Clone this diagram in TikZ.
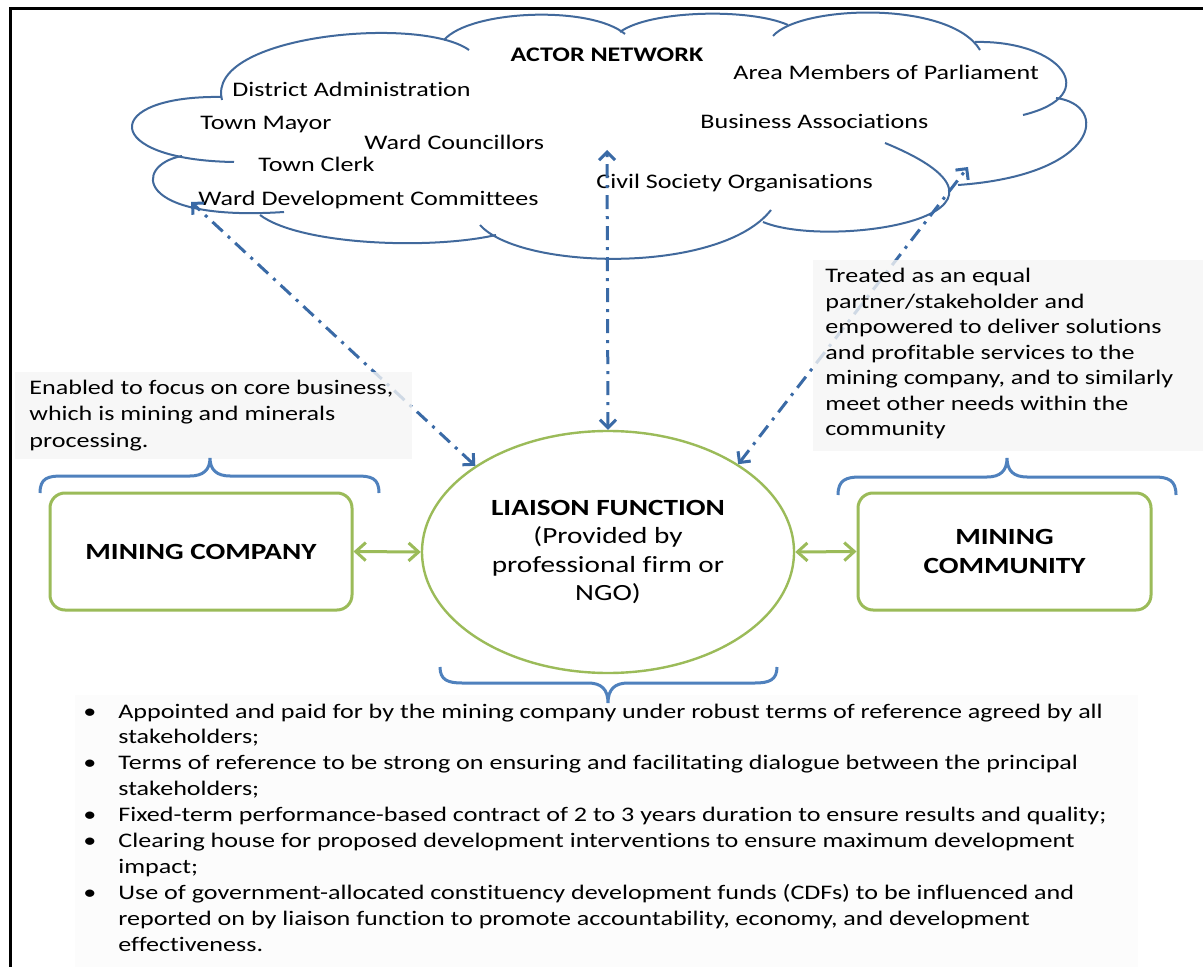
\documentclass[tikz,border=0pt]{standalone}
\usepackage{fontspec}
\setmainfont{Carlito}[FakeStretch=1.26, RawFeature={-liga;-clig;-calt;-dlig}]
\usetikzlibrary{arrows.meta,shapes.geometric}
\definecolor{cloudblue}{HTML}{41699C}
\definecolor{arrowblue}{HTML}{3A6AA6}
\definecolor{braceblue}{HTML}{4F81BD}
\definecolor{leafgreen}{HTML}{9BBB59}
\definecolor{boxgray}{HTML}{F5F5F5}
\definecolor{listgray}{HTML}{FCFCFC}
\newcommand\txtfont{\fontsize{10.35}{12.9}\selectfont}
\newcommand\bigtxtfont{\fontsize{11.6}{14.2}\selectfont}
\begin{document}
\begin{tikzpicture}[x=0.5pt,y=-0.5pt,
  cloudline/.style={draw=cloudblue, line width=1pt},
  bracepath/.style={draw=braceblue, line width=1.5pt},
  greenbox/.style={draw=leafgreen, line width=1.5pt, rounded corners=7.5pt, fill=white,
    minimum height=58.5pt, font=\bigtxtfont\bfseries, align=center, inner sep=0pt},
  liaisonshape/.style={ellipse, draw=leafgreen, line width=1.2pt, fill=white,
    minimum width=186pt, minimum height=121pt, inner sep=0pt, align=center, font=\bigtxtfont},
  linkarrow/.style={draw=leafgreen, line width=1.5pt,
    {Straight Barb[length=5pt,width=9pt]}-{Straight Barb[length=5pt,width=9pt]}},
  actorarrow/.style={draw=arrowblue, line width=1.5pt,
    dash pattern=on 7pt off 3.5pt on 1.5pt off 3.5pt,
    {Straight Barb[length=4pt,width=8pt]}-{Straight Barb[length=4pt,width=8pt]}},
  notebox/.style={fill=boxgray, fill opacity=0.8, draw=none},
  txt/.style={anchor=base west, inner sep=0pt, font=\txtfont}]
\useasboundingbox (0,0) rectangle (1203,967);
\fill[white] (0,0) rectangle (1203,967);
% frame
\draw[line width=1.5pt] (1203,9) -- (10,9) -- (10,967);
% bottom list box
\fill[listgray] (75,695) rectangle (1138,967);
% cloud
\draw[cloudline] (222,97) .. controls (100,95) and (100,160) .. (234,162);
\draw[cloudline] (182,156) .. controls (133,165) and (133,222) .. (284,212);
\draw[cloudline] (260,215) .. controls (300,245) and (430,250) .. (496,235);
\draw[cloudline] (480,225) .. controls (520,270) and (720,275) .. (771,210);
\draw[cloudline] (763,222) .. controls (830,250) and (1060,215) .. (885,143);
\draw[cloudline] (1056,98) .. controls (1110,105) and (1100,175) .. (958,185);
\draw[cloudline] (975,42) .. controls (1060,40) and (1105,95) .. (1023,115);
\draw[cloudline] (773,36) .. controls (800,5) and (950,0) .. (980,50);
\draw[cloudline] (620,32) .. controls (650,10) and (750,8) .. (788,25);
\draw[cloudline] (444,40) .. controls (470,10) and (590,5) .. (625,34);
\draw[cloudline] (222,100) .. controls (205,35) and (420,15) .. (469,50);
% cloud texts
\node[txt, anchor=base, font=\txtfont\bfseries] (actor) at (607,62) {ACTOR NETWORK};
\node[txt] (dist) at (232,97) {District Administration};
\node[txt] (mayor) at (200,130) {Town Mayor};
\node[txt] (wardc) at (364,150) {Ward Councillors};
\node[txt] (clerk) at (258,172) {Town Clerk};
\node[txt] (wdc) at (198,206) {Ward Development Committees};
\node[txt] (amp) at (733,80) {Area Members of Parliament};
\node[txt] (bus) at (700,129) {Business Associations};
\node[txt] (cso) at (596,189) {Civil Society Organisations};
% anchors on the cloud
\coordinate (cl) at (191,202);
\coordinate (cm) at (607,150);
\coordinate (cr) at (968,167);
% main nodes
\node[liaisonshape] (liaison) at (608,552)
  {\textbf{LIAISON FUNCTION}\\(Provided by\\professional firm or\\NGO)};
\node[greenbox, minimum width=151pt] (company) at (201,551.5) {MINING COMPANY};
\node[greenbox, minimum width=146.5pt] (community) at (1004.5,551.5) {MINING\\COMMUNITY};
% actor arrows
\draw[actorarrow] (liaison.147) -- (cl);
\draw[actorarrow] (liaison.north) -- (cm);
\draw[actorarrow] (liaison.34) -- (cr);
% link arrows
\draw[linkarrow] (company.east) -- (liaison.west);
\draw[linkarrow] (liaison.east) -- (community.west);
% note boxes
\path[notebox] (15,372) rectangle (412,459);
\path[notebox] (813,260) rectangle (1203,451);
\foreach \t [count=\i from 0] in {{Enabled to focus on core business,},
  {which is mining and minerals}, {processing.}}
  \node[txt] (left\i) at (29,{395+26*\i}) {\t};
\foreach \t [count=\i from 0] in {{Treated as an equal}, {partner/stakeholder and},
  {empowered to deliver solutions}, {and profitable services to the},
  {mining company, and to similarly}, {meet other needs within the}, {community}}
  \node[txt] (right\i) at (825,{283+25.5*\i}) {\t};
% braces
\draw[bracepath] (40,493) .. controls (40,478) and (48,476) .. (62,476) -- (190,476)
  .. controls (203,476) and (210,470) .. (210,458)
  .. controls (210,470) and (217,476) .. (230,476) -- (357,476)
  .. controls (371,476) and (379,478) .. (379,493);
\draw[bracepath] (838,495) .. controls (838,480) and (846,477) .. (860,477) -- (987,477)
  .. controls (1000,477) and (1007,471) .. (1007,458)
  .. controls (1007,471) and (1014,477) .. (1027,477) -- (1154,477)
  .. controls (1168,477) and (1176,480) .. (1176,495);
\draw[bracepath] (440,667) .. controls (440,680) and (448,683) .. (462,683) -- (588,683)
  .. controls (601,683) and (608,689) .. (608,703)
  .. controls (608,689) and (615,683) .. (628,683) -- (755,683)
  .. controls (769,683) and (777,680) .. (777,667);
% bottom list
\foreach \b/\t [count=\i from 0] in {
  1/{Appointed and paid for by the mining company under robust terms of reference agreed by all},
  0/{stakeholders;},
  1/{Terms of reference to be strong on ensuring and facilitating dialogue between the principal},
  0/{stakeholders;},
  1/{Fixed-term performance-based contract of 2 to 3 years duration to ensure results and quality;},
  1/{Clearing house for proposed development interventions to ensure maximum development},
  0/{impact;},
  1/{Use of government-allocated constituency development funds (CDFs) to be influenced and},
  0/{reported on by liaison function to promote accountability, economy, and development},
  0/{effectiveness.}}
  \node[txt] (list\i) at (118,{718+25.9*\i}) {\ifnum\b=1 \llap{\textbullet\hspace{11pt}}\fi\t};
\end{tikzpicture}
\end{document}
